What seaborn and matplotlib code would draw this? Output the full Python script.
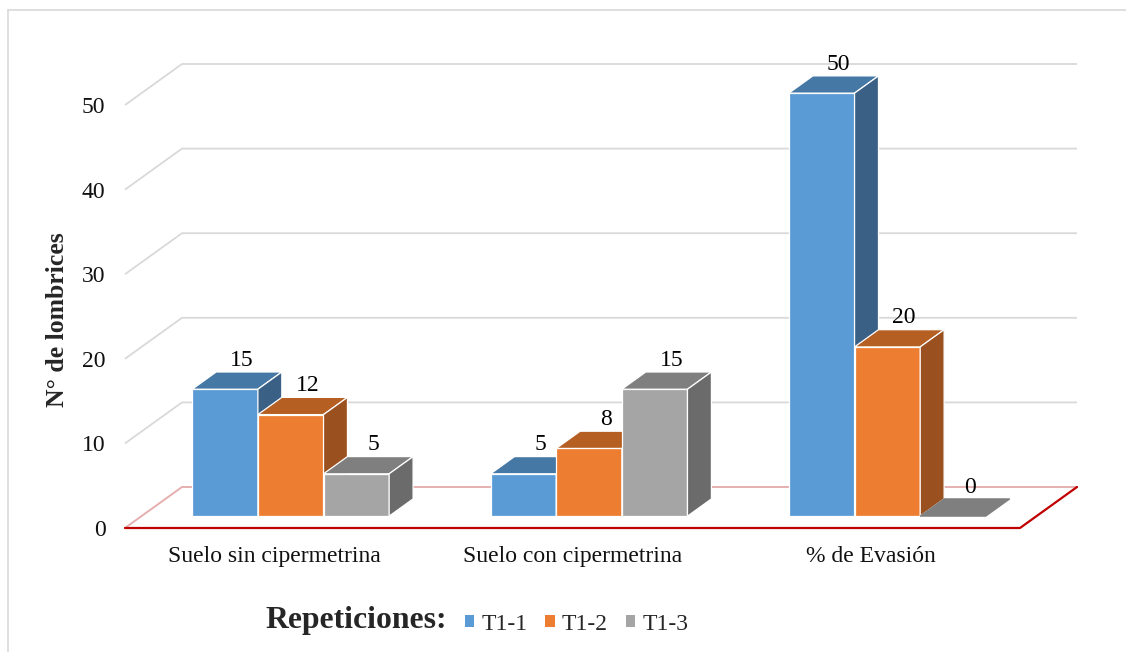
import matplotlib
matplotlib.use("Agg")
import matplotlib.pyplot as plt
from matplotlib.patches import Polygon, Patch
from matplotlib.lines import Line2D
import seaborn as sns
import pandas as pd

# ---- data -------------------------------------------------------------
categorias = ["Suelo sin cipermetrina", "Suelo con cipermetrina", "% de Evasión"]
repeticiones = ["T1-1", "T1-2", "T1-3"]
t1_1 = [15, 5, 50]
t1_2 = [12, 8, 20]
t1_3 = [5, 15, 0]
yticks = [0, 10, 20, 30, 40, 50]

df = pd.DataFrame({
    "categoria": categorias * 3,
    "repeticion": [r for r in repeticiones for _ in categorias],
    "valor": t1_1 + t1_2 + t1_3,
})

# ---- style ------------------------------------------------------------
sns.set_theme(style="white")
plt.rcParams["font.family"] = ["Liberation Serif", "DejaVu Sans"]

front_colors = ["#5B9BD5", "#ED7D31", "#A5A5A5"]
top_colors = ["#4678A5", "#B65F23", "#7F7F7F"]
side_colors = ["#3A6086", "#9A501F", "#6B6B6B"]
grid_color = "#D9D9D9"
FS = 17

W, H, DPI = 1126, 652, 100
fig = plt.figure(figsize=(W / DPI, H / DPI), dpi=DPI)

# front plane of the floor: x 125..1020 px, y(0)=528 px, y(50)=105 px
ax = fig.add_axes([125 / W, (H - 528) / H, 895 / W, 423 / H])
ax.set_xlim(-0.5, 2.5)
ax.set_ylim(0, 50)

# oblique depth of the floor (in data units) and placement of the bars in it
DX, DY = 57 / (895 / 3), 41 / (423 / 50)
F_FRONT, F_DEPTH = 0.29, 0.42

sns.barplot(data=df, x="categoria", y="valor", hue="repeticion",
            palette=front_colors, saturation=1, width=0.66,
            edgecolor="white", linewidth=0.9, legend=False, ax=ax)

# ---- walls, gridlines and floor ---------------------------------------
x0, x1 = -0.5, 2.5
for v in yticks[1:]:
    ax.plot([x0, x0 + DX, x1 + DX], [v, v + DY, v + DY], color=grid_color,
            lw=1.3, zorder=1, clip_on=False, solid_capstyle="butt")
ax.plot([x0, x0 + DX, x1 + DX], [0, DY, DY], color="#E6AFAF", lw=1.4,
        zorder=1.5, clip_on=False)
ax.plot([x0, x1, x1 + DX], [0, 0, DY], color="#C00000", lw=1.6,
        zorder=1.6, clip_on=False)

# ---- 3-D faces of every bar -------------------------------------------
bars = list(ax.patches)
bdx, bdy = F_DEPTH * DX, F_DEPTH * DY
order = sorted(range(len(bars)), key=lambda i: bars[i].get_x())
for rank, i in enumerate(order):
    rect = bars[i]
    k = i // len(categorias)
    value = df["valor"].iloc[i]
    bx = rect.get_x() + F_FRONT * DX
    by = F_FRONT * DY
    w, h = rect.get_width(), rect.get_height()
    rect.set_x(bx)
    rect.set_y(by)
    z = 3 + rank * 0.1
    rect.set_zorder(z)
    top = Polygon([(bx, by + h), (bx + w, by + h), (bx + w + bdx, by + h + bdy),
                   (bx + bdx, by + h + bdy)], closed=True,
                  facecolor=top_colors[k],
                  edgecolor="white" if h > 0 else top_colors[k],
                  lw=0.9, zorder=z, clip_on=False, joinstyle="miter")
    ax.add_patch(top)
    if h > 0:
        side = Polygon([(bx + w, by), (bx + w + bdx, by + bdy),
                        (bx + w + bdx, by + h + bdy), (bx + w, by + h)],
                       closed=True, facecolor=side_colors[k], edgecolor="white",
                       lw=0.9, zorder=z, clip_on=False, joinstyle="miter")
        ax.add_patch(side)
    rect.set_clip_on(False)
    ax.annotate(f"{value:g}", (bx + w / 2 + 0.7 * bdx, by + h + bdy),
                xytext=(0, 4.5), textcoords="offset points",
                ha="center", va="baseline", fontsize=FS, color="black",
                zorder=20, annotation_clip=False)

# ---- axes text ----------------------------------------------------------
for s in ax.spines.values():
    s.set_visible(False)
ax.set_yticks(yticks)
ax.set_yticklabels([str(t) for t in yticks])
ax.tick_params(axis="y", length=0, pad=14, labelsize=FS, labelcolor="#111111")
ax.tick_params(axis="x", length=0, pad=13, labelsize=FS, labelcolor="#111111")
ax.set_xlabel("")
ax.set_ylabel("")
ax.patch.set_alpha(0)

fig.text(58 / W, 1 - 320 / H, "N° de lombrices", rotation=90, ha="center",
         va="center", fontsize=18.5, fontweight="bold")

# ---- legend -------------------------------------------------------------
fig.text(265 / W, 1 - 628 / H, "Repeticiones:", ha="left", va="baseline",
         fontsize=22.8, fontweight="bold")
handles = [Patch(facecolor=c, edgecolor="none") for c in front_colors]
fig.legend(handles, repeticiones, loc="center left",
           bbox_to_anchor=(465 / W, 1 - 624 / H), ncol=3, frameon=False,
           fontsize=FS, handlelength=0.4, handleheight=0.4,
           handletextpad=0.3, columnspacing=0.75, borderpad=0,
           borderaxespad=0)

# ---- chart frame --------------------------------------------------------
fig.add_artist(Line2D([8 / W, 8 / W], [0, 1 - 10 / H], transform=fig.transFigure,
                      color=grid_color, lw=1.2))
fig.add_artist(Line2D([8 / W, 1], [1 - 10 / H, 1 - 10 / H],
                      transform=fig.transFigure, color=grid_color, lw=1.2))

fig.savefig("out.png", dpi=DPI)
